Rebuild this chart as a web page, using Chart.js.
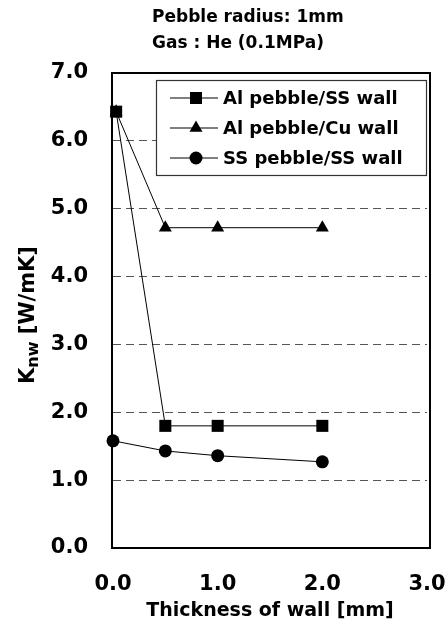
<!DOCTYPE html>
<html>
<head>
<meta charset="utf-8">
<script src="https://cdn.jsdelivr.net/npm/chart.js@4/dist/chart.umd.min.js"></script>
<style>
  html, body { margin: 0; padding: 0; background: #fff; }
  #wrap { width: 445px; height: 633px; position: relative; }
</style>
</head>
<body>
<div id="wrap"><canvas id="c" width="445" height="633"></canvas></div>
<script>
// ---- data ----
const titleLines = ["Pebble radius: 1mm", "Gas : He (0.1MPa)"];
const seriesNames = ["Al pebble/SS wall", "Al pebble/Cu wall", "SS pebble/SS wall"];
const thicknessAl = [0.03, 0.5, 1.0, 2.0];
const alSS = [6.43, 1.80, 1.80, 1.80];
const alCu = [6.43, 4.72, 4.72, 4.72];
const thicknessSS = [0.0, 0.5, 1.0, 2.0];
const ssSS = [1.58, 1.43, 1.36, 1.27];
const xTicks = [0, 1, 2, 3];
const yTicks = [0, 1, 2, 3, 4, 5, 6, 7];
const xTitle = "Thickness of wall [mm]";
const yTitleMain = "K";
const yTitleSub = "nw";
const yTitleRest = " [W/mK]";

const FONT = "'DejaVu Sans', sans-serif";
const pts = (xs, ys) => xs.map((x, i) => ({ x: x, y: ys[i] }));

const styles = [
  { pointStyle: 'rect', radius: 8.5 },
  { pointStyle: 'triangle', radius: 7.5 },
  { pointStyle: 'circle', radius: 6.5 }
];

function drawMarker(ctx, style, r, x, y) {
  ctx.beginPath();
  if (style === 'rect') {
    const s = r * Math.SQRT1_2;
    ctx.rect(x - s, y - s, 2 * s, 2 * s);
  } else if (style === 'triangle') {
    for (let i = 0; i < 3; i++) {
      const a = i * 2 * Math.PI / 3;
      const px = x + Math.sin(a) * r, py = y - Math.cos(a) * r;
      if (i === 0) ctx.moveTo(px, py); else ctx.lineTo(px, py);
    }
    ctx.closePath();
  } else {
    ctx.arc(x, y, r, 0, Math.PI * 2);
  }
  ctx.fill();
}

const decor = {
  id: 'decor',
  beforeDatasetsDraw(chart) {
    const ctx = chart.ctx, a = chart.chartArea;
    ctx.save();
    ctx.strokeStyle = '#000';
    ctx.lineWidth = 2;
    ctx.strokeRect(a.left - 1, a.top, a.right - a.left + 4, a.bottom - a.top);
    ctx.restore();
  },
  afterDraw(chart) {
    const ctx = chart.ctx, a = chart.chartArea;
    ctx.save();
    ctx.fillStyle = '#000';
    // top title
    ctx.font = "bold 17px " + FONT;
    ctx.textAlign = 'left';
    ctx.textBaseline = 'middle';
    ctx.fillText(titleLines[0], 152, 18);
    ctx.fillText(titleLines[1], 152, 44);
    // x title
    ctx.font = "bold 19px " + FONT;
    ctx.textAlign = 'center';
    ctx.fillText(xTitle, (a.left + a.right) / 2, 611);
    // y title (rotated, with subscript)
    ctx.save();
    ctx.translate(27, 315);
    ctx.rotate(-Math.PI / 2);
    const fMain = "bold 21px " + FONT, fSub = "bold 16px " + FONT;
    ctx.font = fMain; const w1 = ctx.measureText(yTitleMain).width;
    const w3 = ctx.measureText(yTitleRest).width;
    ctx.font = fSub; const w2 = ctx.measureText(yTitleSub).width;
    let x0 = -(w1 + w2 + w3) / 2;
    ctx.textAlign = 'left';
    ctx.textBaseline = 'alphabetic';
    ctx.font = fMain; ctx.fillText(yTitleMain, x0, 7);
    ctx.font = fSub; ctx.fillText(yTitleSub, x0 + w1, 11);
    ctx.font = fMain; ctx.fillText(yTitleRest, x0 + w1 + w2, 7);
    ctx.restore();
    // legend box
    const lx = 156, ly = 80, lw = 270, lh = 95;
    ctx.fillStyle = '#fff';
    ctx.fillRect(lx, ly, lw, lh);
    ctx.strokeStyle = '#333';
    ctx.lineWidth = 1.2;
    ctx.strokeRect(lx + 0.5, ly + 0.5, lw, lh);
    ctx.font = "bold 18px " + FONT;
    ctx.textAlign = 'left';
    ctx.textBaseline = 'middle';
    seriesNames.forEach((name, i) => {
      const y = 98 + i * 30;
      ctx.strokeStyle = '#000';
      ctx.lineWidth = 1;
      ctx.beginPath(); ctx.moveTo(170, y); ctx.lineTo(218, y); ctx.stroke();
      ctx.fillStyle = '#000';
      drawMarker(ctx, styles[i].pointStyle, styles[i].radius, 196, y);
      ctx.fillText(name, 223, y + 1);
    });
    ctx.restore();
  }
};

const mk = (label, data, i) => ({
  label: label,
  data: data,
  borderColor: '#000',
  backgroundColor: '#000',
  borderWidth: 1,
  pointStyle: styles[i].pointStyle,
  pointRadius: styles[i].radius,
  pointHoverRadius: styles[i].radius,
  pointBackgroundColor: '#000',
  pointBorderColor: '#000',
  pointBorderWidth: 0,
  tension: 0,
  clip: false
});

new Chart(document.getElementById('c'), {
  type: 'line',
  data: {
    datasets: [
      mk(seriesNames[0], pts(thicknessAl, alSS), 0),
      mk(seriesNames[1], pts(thicknessAl, alCu), 1),
      mk(seriesNames[2], pts(thicknessSS, ssSS), 2)
    ]
  },
  options: {
    responsive: false,
    animation: false,
    devicePixelRatio: 1,
    layout: { padding: { top: 73, right: 0, left: 0, bottom: 0 } },
    plugins: { legend: { display: false }, tooltip: { enabled: false }, title: { display: false } },
    scales: {
      x: {
        type: 'linear',
        min: xTicks[0], max: xTicks[xTicks.length - 1],
        afterBuildTicks: s => { s.ticks = xTicks.map(v => ({ value: v })); },
        afterFit: s => { s.height = 85; s.paddingRight = 18; s.paddingLeft = 0; },
        ticks: {
          padding: 24,
          color: '#000',
          font: { family: FONT, size: 21, weight: 'bold' },
          callback: v => Number(v).toFixed(1),
          maxRotation: 0
        },
        grid: { display: false, drawTicks: false },
        border: { display: false }
      },
      y: {
        type: 'linear',
        min: yTicks[0], max: yTicks[yTicks.length - 1],
        afterBuildTicks: s => { s.ticks = yTicks.map(v => ({ value: v })); },
        afterFit: s => { s.width = 113; s.paddingTop = 0; s.paddingBottom = 0; },
        ticks: {
          padding: 25,
          color: '#000',
          font: { family: FONT, size: 21, weight: 'bold' },
          callback: v => Number(v).toFixed(1)
        },
        grid: {
          drawTicks: false,
          lineWidth: 1,
          color: c => (c.tick && (c.tick.value === yTicks[0] || c.tick.value === yTicks[yTicks.length - 1])) ? 'rgba(0,0,0,0)' : '#555'
        },
        border: { display: false, dash: [8, 5] }
      }
    }
  },
  plugins: [decor]
});
</script>
</body>
</html>
